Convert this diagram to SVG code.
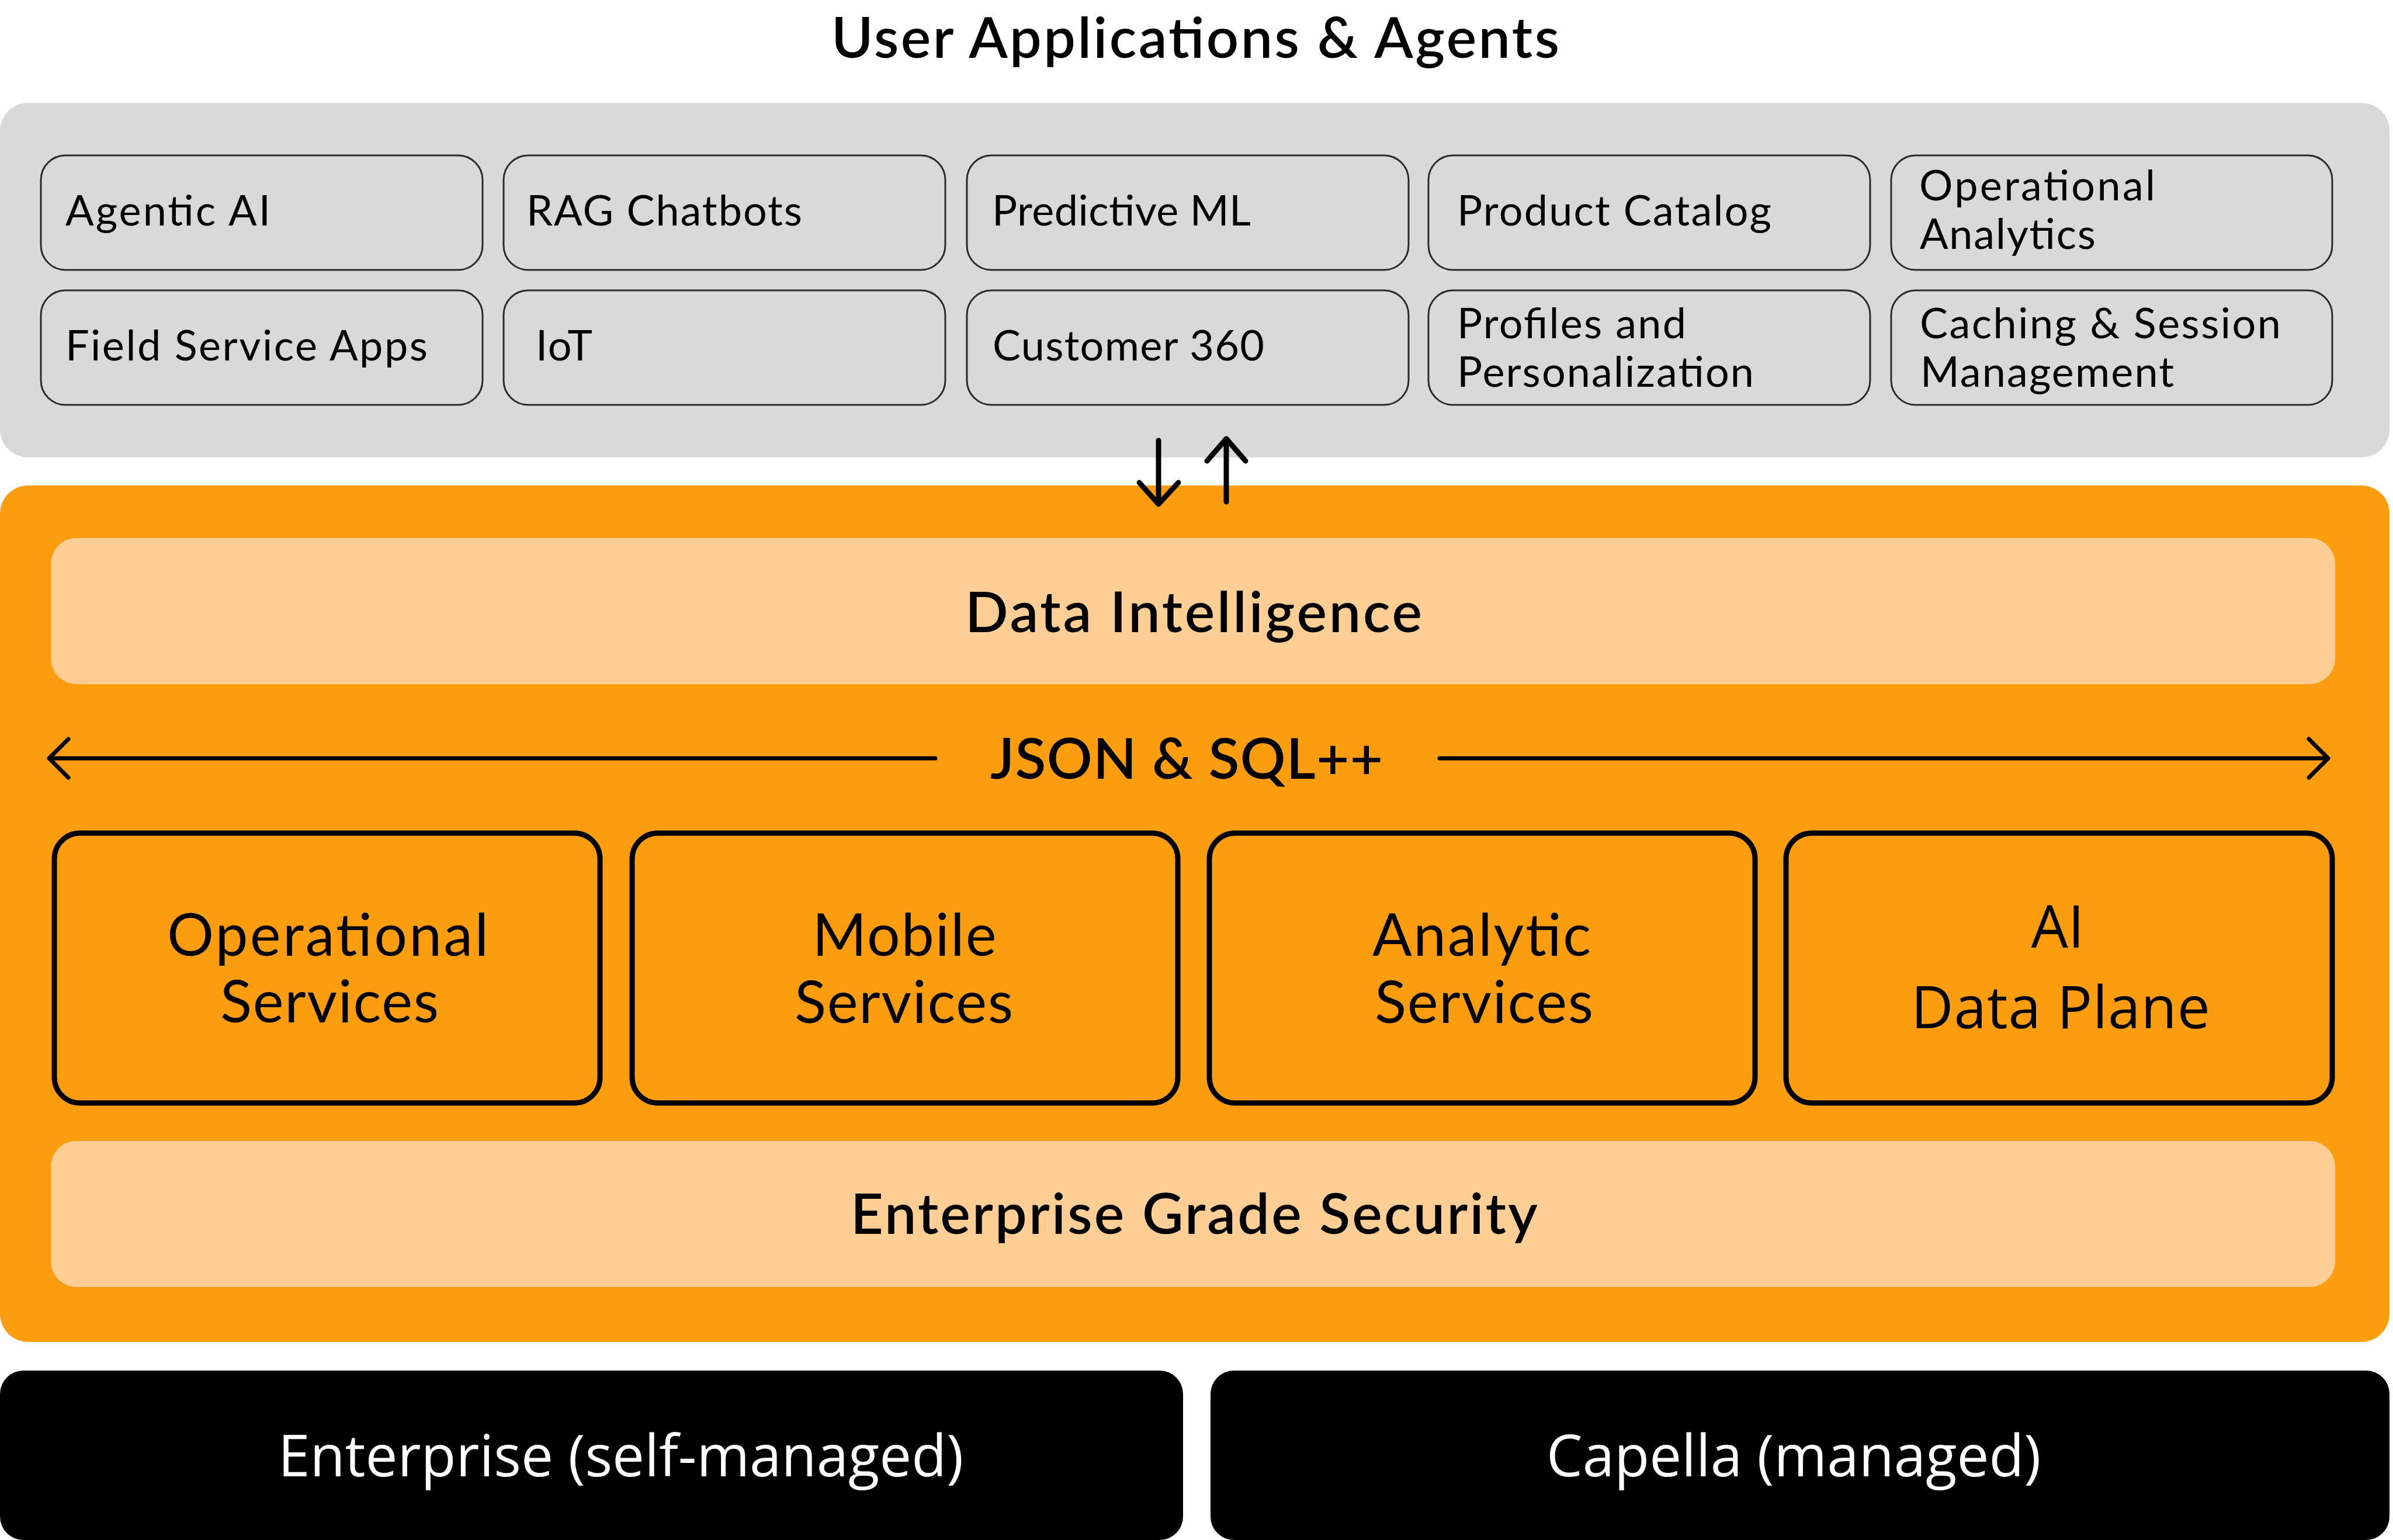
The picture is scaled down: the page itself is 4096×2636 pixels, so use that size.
<svg xmlns="http://www.w3.org/2000/svg" width="4096" height="2636" viewBox="0 0 4096 2636">
<style>
.panel-gray{fill:#D9D9D9}
.panel-orange{fill:#FC9D0F}
.band{fill:#FFCE94}
.app{fill:#D9D9D9;stroke:#2a2a2a;stroke-width:3}
.svc{fill:none;stroke:#000;stroke-width:9}
.plat{fill:#000}
.t-app{font-family:Lato,"Noto Sans",sans-serif;font-size:72px;fill:#000}
.t-svc{font-family:Lato,"Noto Sans",sans-serif;font-size:100px;fill:#000;text-anchor:middle}
.t-head{font-family:Lato,"Noto Sans",sans-serif;font-weight:600;font-size:97px;fill:#000;text-anchor:middle}
.t-os{font-family:"Open Sans","Noto Sans",sans-serif;font-size:100px;fill:#000;text-anchor:middle}
.t-plat{font-family:"Open Sans","Noto Sans",sans-serif;font-size:98px;fill:#fff}
.arrow{fill:none;stroke:#000;stroke-linecap:round;stroke-linejoin:round}
</style>

<text class="t-head" x="2046" y="99" textLength="1246" lengthAdjust="spacing">User Applications &amp; Agents</text>

<rect id="apps-panel" class="panel-gray" x="0" y="176" width="4090" height="607" rx="48"/>

<g id="agentic-ai"><rect class="app" x="70" y="266" width="756" height="196" rx="42"/><text class="t-app" x="112" y="386" textLength="351" lengthAdjust="spacing">Agentic AI</text></g>
<g id="rag-chatbots"><rect class="app" x="862" y="266" width="756" height="196" rx="42"/><text class="t-app" x="901" y="386" textLength="472" lengthAdjust="spacing">RAG Chatbots</text></g>
<g id="predictive-ml"><rect class="app" x="1655" y="266" width="756" height="196" rx="42"/><text class="t-app" x="1698" y="386" textLength="443" lengthAdjust="spacing">Predictive ML</text></g>
<g id="product-catalog"><rect class="app" x="2445" y="266" width="756" height="196" rx="42"/><text class="t-app" x="2494" y="386" textLength="538" lengthAdjust="spacing">Product Catalog</text></g>
<g id="operational-analytics"><rect class="app" x="3237" y="266" width="755" height="196" rx="42"/><text class="t-app" x="3285" y="343" textLength="404" lengthAdjust="spacing">Operational</text><text class="t-app" x="3286" y="426" textLength="301" lengthAdjust="spacing">Analytics</text></g>

<g id="field-service-apps"><rect class="app" x="70" y="497" width="756" height="196" rx="42"/><text class="t-app" x="112" y="617" textLength="620" lengthAdjust="spacing">Field Service Apps</text></g>
<g id="iot"><rect class="app" x="862" y="497" width="756" height="196" rx="42"/><text class="t-app" x="917" y="617" textLength="97" lengthAdjust="spacing">IoT</text></g>
<g id="customer-360"><rect class="app" x="1655" y="497" width="756" height="196" rx="42"/><text class="t-app" x="1699" y="617" textLength="465" lengthAdjust="spacing">Customer 360</text></g>
<g id="profiles"><rect class="app" x="2445" y="497" width="756" height="196" rx="42"/><text class="t-app" x="2494" y="579" textLength="392" lengthAdjust="spacing">Profiles and</text><text class="t-app" x="2494" y="662" textLength="508" lengthAdjust="spacing">Personalization</text></g>
<g id="caching"><rect class="app" x="3237" y="497" width="755" height="196" rx="42"/><text class="t-app" x="3286" y="579" textLength="618" lengthAdjust="spacing">Caching &amp; Session</text><text class="t-app" x="3287" y="662" textLength="434" lengthAdjust="spacing">Management</text></g>

<rect id="platform-panel" class="panel-orange" x="0" y="831" width="4090" height="1466" rx="48"/>

<g id="data-intelligence"><rect class="band" x="87" y="921" width="3910" height="250" rx="44"/><text class="t-head" x="2043" y="1082" textLength="782" lengthAdjust="spacing">Data Intelligence</text></g>

<text id="json-sql" class="t-head" x="2031" y="1333" textLength="672" lengthAdjust="spacing">JSON &amp; SQL++</text>

<g id="operational-services"><rect class="svc" x="93" y="1426" width="934" height="462" rx="44"/><text class="t-svc" x="561" y="1636" textLength="550" lengthAdjust="spacing">Operational</text><text class="t-svc" x="564" y="1750" textLength="374" lengthAdjust="spacing">Services</text></g>
<g id="mobile-services"><rect class="svc" x="1082" y="1426" width="934" height="462" rx="44"/><text class="t-svc" x="1548" y="1636" textLength="315" lengthAdjust="spacing">Mobile</text><text class="t-svc" x="1547" y="1751" textLength="374" lengthAdjust="spacing">Services</text></g>
<g id="analytic-services"><rect class="svc" x="2070" y="1426" width="934" height="462" rx="44"/><text class="t-svc" x="2536" y="1636" textLength="374" lengthAdjust="spacing">Analytic</text><text class="t-svc" x="2540" y="1751" textLength="374" lengthAdjust="spacing">Services</text></g>
<g id="ai-data-plane"><rect class="svc" x="3057" y="1426" width="935" height="462" rx="44"/><text class="t-os" x="3522" y="1622">AI</text><text class="t-os" x="3527" y="1760" textLength="512" lengthAdjust="spacing">Data Plane</text></g>

<g id="security"><rect class="band" x="87" y="1953" width="3910" height="250" rx="44"/><text class="t-head" x="2044" y="2112" textLength="1176" lengthAdjust="spacing">Enterprise Grade Security</text></g>

<g id="enterprise"><rect class="plat" x="0" y="2346" width="2025" height="290" rx="40"/><text class="t-plat" x="476" y="2527">Enterprise (self-managed)</text></g>
<g id="capella"><rect class="plat" x="2072" y="2346" width="2018" height="290" rx="40"/><text class="t-plat" x="2647" y="2527">Capella (managed)</text></g>

<g id="connectors">
  <path class="arrow" stroke-width="9" d="M1983 754 V862 M1950 826 L1983 863 L2017 826"/>
  <path class="arrow" stroke-width="9" d="M2099 859 V752 M2066 789 L2099 751 L2132 789"/>
  <path class="arrow" stroke-width="7" d="M1601 1298 H84 M117 1265 L84 1298 L117 1331"/>
  <path class="arrow" stroke-width="7" d="M2464 1298 H3985 M3952 1265 L3985 1298 L3952 1331"/>
</g>
</svg>
